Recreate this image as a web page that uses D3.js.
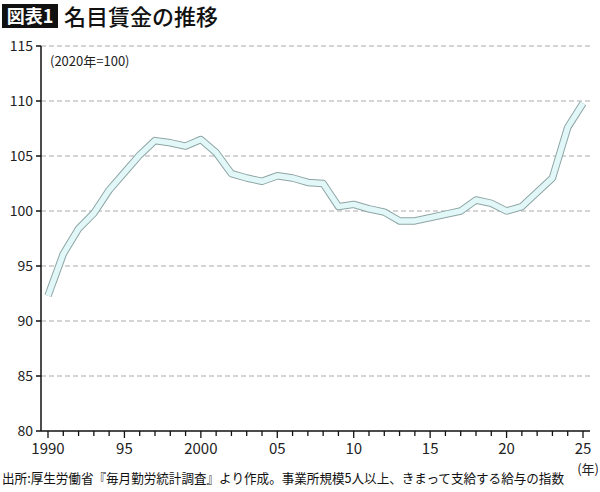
<!DOCTYPE html>
<html>
<head>
<meta charset="utf-8">
<script src="https://cdn.jsdelivr.net/npm/d3@7"></script>
<style>
body { margin: 0; background: #fff; }
text { font-family: "Noto Sans CJK JP", "Noto Sans", sans-serif; }
</style>
</head>
<body>
<svg id="chart" width="600" height="492"></svg>
<script>
// data
var years = d3.range(1990, 2026);
var wages = [92.3, 96.1, 98.4, 99.8, 101.9, 103.5, 105.1, 106.4, 106.2, 105.9,
	106.5, 105.3, 103.4, 103.0, 102.7, 103.2, 103.0, 102.6, 102.5, 100.4,
	100.6, 100.2, 99.9, 99.1, 99.1, 99.4, 99.7, 100.0, 101.0, 100.7,
	100.0, 100.4, 101.7, 103.0, 107.6, 109.8];
var yTicks = [80, 85, 90, 95, 100, 105, 110, 115];
var xLabels = {1990: "1990", 1995: "95", 2000: "2000", 2005: "05", 2010: "10", 2015: "15", 2020: "20", 2025: "25"};

var svg = d3.select("#chart");
var x = d3.scaleLinear().domain([1990, 2025]).range([48, 583]);
var y = d3.scaleLinear().domain([80, 115]).range([431, 46]);

// title
svg.append("rect").attr("x", 2).attr("y", 4).attr("width", 56).attr("height", 24).attr("fill", "#111");
svg.append("text").attr("x", 30).attr("y", 23).attr("text-anchor", "middle")
	.attr("fill", "#fff").attr("font-size", 18).attr("font-weight", "bold").text("図表1");
svg.append("text").attr("x", 64).attr("y", 25).attr("fill", "#111")
	.attr("font-size", 22).attr("font-weight", 500).text("名目賃金の推移");

// grid
svg.selectAll(".grid").data(yTicks.filter(function(d) { return d > 80; })).enter()
	.append("line").attr("x1", 41).attr("x2", 590)
	.attr("y1", function(d) { return y(d); }).attr("y2", function(d) { return y(d); })
	.attr("stroke", "#aaa").attr("stroke-dasharray", "5,3");

// y axis
svg.append("line").attr("x1", 41).attr("x2", 41).attr("y1", 46).attr("y2", 431).attr("stroke", "#111").attr("stroke-width", 1.5);
svg.selectAll(".yt").data(yTicks).enter().append("line")
	.attr("x1", 36).attr("x2", 41).attr("y1", function(d) { return y(d); }).attr("y2", function(d) { return y(d); })
	.attr("stroke", "#111").attr("stroke-width", 1.5);
svg.selectAll(".yl").data(yTicks).enter().append("text")
	.attr("x", 33).attr("y", function(d) { return y(d) + 5; }).attr("text-anchor", "end")
	.attr("font-size", 14).attr("fill", "#222").text(function(d) { return d; });

// x axis
svg.append("line").attr("x1", 41).attr("x2", 590).attr("y1", 431).attr("y2", 431).attr("stroke", "#111").attr("stroke-width", 1.5);
svg.selectAll(".xt").data(years).enter().append("line")
	.attr("x1", function(d) { return x(d); }).attr("x2", function(d) { return x(d); })
	.attr("y1", 431).attr("y2", function(d) { return xLabels[d] ? 438 : 436; })
	.attr("stroke", "#111").attr("stroke-width", 1.3);
svg.selectAll(".xl").data(years.filter(function(d) { return xLabels[d]; })).enter().append("text")
	.attr("x", function(d) { return x(d); }).attr("y", 454).attr("text-anchor", "middle")
	.attr("font-size", 15).attr("fill", "#222").text(function(d) { return xLabels[d]; });
svg.append("text").attr("x", 599).attr("y", 474).attr("text-anchor", "end")
	.attr("font-size", 13).attr("fill", "#222").text("(年)");

svg.append("text").attr("x", 50).attr("y", 66).attr("font-size", 13).attr("fill", "#222").text("(2020年=100)");

// line
var line = d3.line().x(function(d, i) { return x(years[i]); }).y(function(d) { return y(d); });
svg.append("path").datum(wages).attr("d", line).attr("fill", "none")
	.attr("stroke", "#8fa5a5").attr("stroke-width", 7.5).attr("stroke-linejoin", "round");
svg.append("path").datum(wages).attr("d", line).attr("fill", "none")
	.attr("stroke", "#e2f8f8").attr("stroke-width", 5.5).attr("stroke-linejoin", "round");

// source
svg.append("text").attr("x", 2).attr("y", 483).attr("font-size", 13).attr("fill", "#111")
	.attr("textLength", 562).attr("lengthAdjust", "spacingAndGlyphs")
	.text("出所:厚生労働省『毎月勤労統計調査』より作成。事業所規模5人以上、きまって支給する給与の指数");
</script>
</body>
</html>
